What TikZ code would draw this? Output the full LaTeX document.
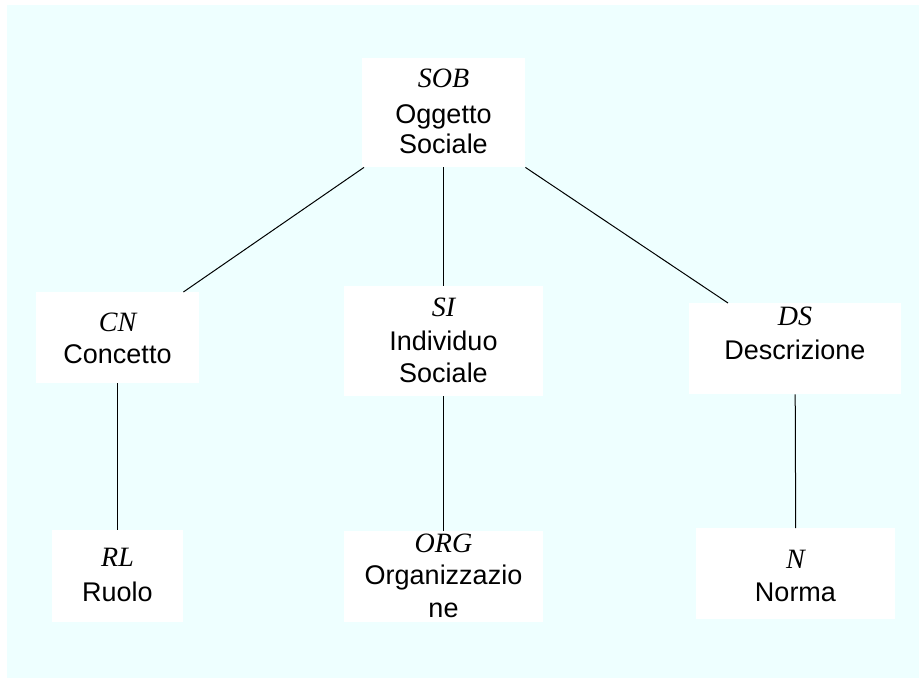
\documentclass[tikz,border=0pt]{standalone}
\usepackage{fontspec}
\setmainfont{Liberation Serif}
\setsansfont{Liberation Sans}
\usetikzlibrary{calc}
\definecolor{bgcyan}{RGB}{238,255,255}
\tikzset{
  whitebox/.style={draw=none,fill=white,rectangle,inner sep=0pt,anchor=north west},
  codelbl/.style={anchor=base,inner sep=0pt,font=\fontsize{28}{32}\selectfont\itshape},
  namelbl/.style={anchor=base,inner sep=0pt,font=\fontsize{27}{32}\selectfont\sffamily},
  link/.style={draw=black,line width=1pt}
}
\begin{document}
\begin{tikzpicture}[x=1pt,y=-1pt]
\useasboundingbox (0,0) rectangle (919,678);
\fill[bgcyan] (7,5) rectangle (919,678);
% boxes
\node[whitebox,minimum width=163pt,minimum height=109pt] (sob) at (362,58) {};
\node[whitebox,minimum width=163pt,minimum height=91pt] (cn) at (36,292) {};
\node[whitebox,minimum width=199pt,minimum height=110pt] (si) at (344,286) {};
\node[whitebox,minimum width=212pt,minimum height=91pt] (ds) at (689,303) {};
\node[whitebox,minimum width=131pt,minimum height=92pt] (rl) at (52,530) {};
\node[whitebox,minimum width=199pt,minimum height=91pt] (org) at (344,531) {};
\node[whitebox,minimum width=199pt,minimum height=91pt] (n) at (696,528) {};
% texts
\node[codelbl] (tsob) at (443.5,87) {SOB};
\node[namelbl] (tsob1) at (443.5,123) {Oggetto};
\node[namelbl] (tsob2) at (443.5,153) {Sociale};
\node[codelbl] (tcn) at (117.5,331) {CN};
\node[namelbl] (tcn1) at (117.5,363) {Concetto};
\node[codelbl] (tsi) at (443.5,316) {SI};
\node[namelbl] (tsi1) at (443.5,350) {Individuo};
\node[namelbl] (tsi2) at (443.5,382) {Sociale};
\node[codelbl] (tds) at (795,325) {DS};
\node[namelbl] (tds1) at (795,359) {Descrizione};
\node[codelbl] (trl) at (117.5,566) {RL};
\node[namelbl] (trl1) at (117.5,601) {Ruolo};
\node[codelbl] (torg) at (443.5,552) {ORG};
\node[namelbl] (torg1) at (443.5,584) {Organizzazio};
\node[namelbl] (torg2) at (443.5,617) {ne};
\node[codelbl] (tn) at (795.5,568) {N};
\node[namelbl] (tn1) at (795.5,601) {Norma};
% connectors
\coordinate (cnend) at ($(cn.north east)+(-16,0)$);
\coordinate (dsend) at ($(ds.north west)+(39,0)$);
\coordinate (sobl) at ($(sob.south west)+(2,0)$);
\draw[link] (sobl) -- (cnend);
\draw[link] (sob.south) -- (si.north);
\draw[link] (sob.south east) -- (dsend);
\draw[link] (cn.south) -- (rl.north);
\draw[link] (si.south) -- (org.north);
\draw[link] (ds.south) -- (n.north);
\end{tikzpicture}
\end{document}
